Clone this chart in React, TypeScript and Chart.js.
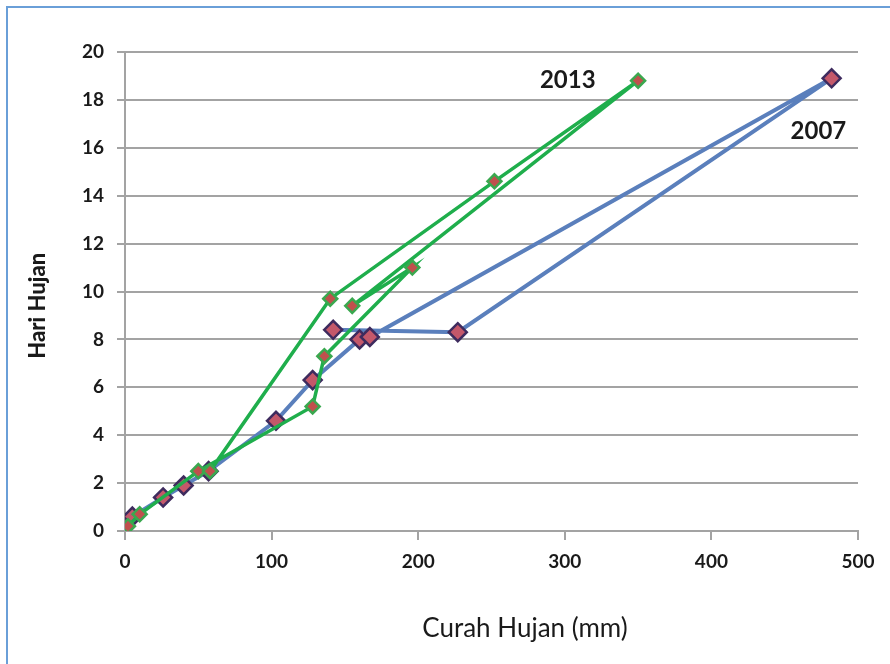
import { useEffect, useRef } from "react";
import { Chart, registerables } from "chart.js";

Chart.register(...registerables);

// Rainfall (mm) vs rainy days, in data-entry order
const rain2007 = [0, 5, 26, 40, 57, 103, 128, 160, 167, 482, 227, 142];
const days2007 = [0.3, 0.6, 1.4, 1.9, 2.5, 4.6, 6.3, 8.0, 8.1, 18.9, 8.3, 8.4];

const rain2013 = [2, 10, 50, 128, 136, 196, 155, 350, 252, 140, 58];
const days2013 = [0.2, 0.7, 2.5, 5.2, 7.3, 11.0, 9.4, 18.8, 14.6, 9.7, 2.5];

const seriesNames = ["2007", "2013"];
const xTitle = "Curah Hujan (mm)";
const yTitle = "Hari Hujan";
const xMin = 0;
const xMax = 500;
const xStep = 100;
const yMin = 0;
const yMax = 20;
const yStep = 2;

const FONT = "Lato, 'Open Sans', sans-serif";
const GRID = "#a3a3a3";

const toPoints = (xs: number[], ys: number[]) => xs.map((x, i) => ({ x, y: ys[i] }));

const textPlugin = {
  id: "chartText",
  afterDraw(chart: any) {
    const { ctx, chartArea, scales } = chart;
    const xs = scales.x;
    const ys = scales.y;
    ctx.save();
    ctx.fillStyle = "#1a1a1a";
    ctx.textAlign = "center";
    ctx.textBaseline = "middle";

    // axis titles
    ctx.font = `400 26px ${FONT}`;
    ctx.fillText(xTitle, xs.getPixelForValue(xMin) + 400, chartArea.bottom + 98);

    ctx.save();
    ctx.translate(30, ys.getPixelForValue(9.4));
    ctx.rotate(-Math.PI / 2);
    ctx.font = `900 22px ${FONT}`;
    ctx.fillText(yTitle, 0, 0);
    ctx.restore();

    // series labels near the peak points
    ctx.font = `700 24px ${FONT}`;
    ctx.fillText(seriesNames[1], xs.getPixelForValue(302), ys.getPixelForValue(18.8));
    ctx.fillText(seriesNames[0], xs.getPixelForValue(473), ys.getPixelForValue(16.7));
    ctx.restore();
  },
};

export default function App() {
  const ref = useRef<HTMLCanvasElement | null>(null);

  useEffect(() => {
    if (!ref.current) return;
    const chart = new Chart(ref.current, {
      type: "scatter",
      data: {
        datasets: [
          {
            label: seriesNames[0],
            data: toPoints(rain2007, days2007),
            showLine: true,
            borderColor: "#5a7fbc",
            borderWidth: 4,
            pointStyle: "rectRot",
            pointRadius: 9,
            pointBackgroundColor: "#c4586a",
            pointBorderColor: "#3e2b5e",
            pointBorderWidth: 2.5,
            order: 2,
          },
          {
            label: seriesNames[1],
            data: toPoints(rain2013, days2013),
            showLine: true,
            borderColor: "#1fae4c",
            borderWidth: 3.5,
            pointStyle: "rectRot",
            pointRadius: 7,
            pointBackgroundColor: "#c0504d",
            pointBorderColor: "#3aa84f",
            pointBorderWidth: 2.5,
            order: 1,
          },
        ],
      },
      options: {
        responsive: false,
        animation: false,
        devicePixelRatio: 1,
        layout: { padding: { top: 44, right: 32, left: 0, bottom: 0 } },
        plugins: {
          legend: { display: false },
          tooltip: { enabled: false },
        },
        scales: {
          x: {
            type: "linear",
            min: xMin,
            max: xMax,
            afterFit: (s: any) => {
              s.height = 133;
            },
            ticks: {
              stepSize: xStep,
              color: "#1a1a1a",
              padding: 10,
              font: { family: FONT, size: 19, weight: "bold" },
            },
            grid: {
              drawOnChartArea: false,
              drawTicks: true,
              tickLength: 9,
              color: GRID,
              lineWidth: 2,
            },
            border: { display: true, color: GRID, width: 2 },
          },
          y: {
            type: "linear",
            min: yMin,
            max: yMax,
            afterFit: (s: any) => {
              s.width = 117;
            },
            ticks: {
              stepSize: yStep,
              color: "#1a1a1a",
              padding: 13,
              font: { family: FONT, size: 19, weight: "bold" },
            },
            grid: {
              drawOnChartArea: true,
              drawTicks: true,
              tickLength: 8,
              color: GRID,
              lineWidth: 2,
            },
            border: { display: true, color: GRID, width: 2 },
          },
        },
      },
      plugins: [textPlugin],
    });
    return () => chart.destroy();
  }, []);

  return (
    <div
      style={{
        position: "absolute",
        left: 6,
        top: 6,
        width: 884,
        height: 658,
        boxSizing: "border-box",
        borderLeft: "2px solid #6a9fd8",
        borderTop: "2px solid #6a9fd8",
        background: "#ffffff",
        overflow: "hidden",
      }}
    >
      <canvas ref={ref} width={882} height={656} style={{ display: "block" }} />
    </div>
  );
}
